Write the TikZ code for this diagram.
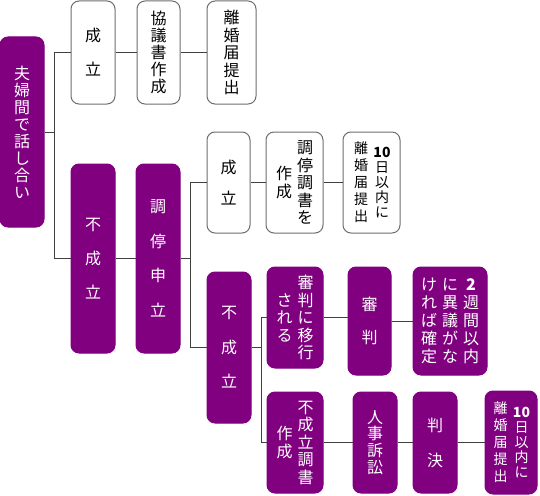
\documentclass[tikz,border=0pt]{standalone}
\usepackage{fontspec}
\setmainfont{Noto Sans CJK JP}
\usetikzlibrary{positioning}
\definecolor{boxpurple}{RGB}{128,0,128}
\definecolor{boxgray}{RGB}{110,110,110}
\definecolor{linegray}{RGB}{64,64,64}
% vertical text: one column, characters stacked top to bottom
\makeatletter
\newcommand\tate[2][17.5pt]{$\vcenter{\baselineskip=#1\lineskip=0pt\lineskiplimit=-100pt%
  \@tfor\tate@c:=#2\do{\hbox to 1em{\hss\tate@c\hss}}}$}
\makeatother

\begin{document}
\begin{tikzpicture}[x=1pt,y=1pt,yscale=-1,xscale=1,
    whitebox/.style={draw=boxgray,fill=white,text=black,rounded corners=8pt,inner sep=0pt,line width=1pt,font=\fontsize{16}{18}\selectfont},
    purplebox/.style={draw=boxpurple,fill=boxpurple,text=white,rounded corners=8pt,inner sep=0pt,line width=1pt,font=\fontsize{16}{18}\selectfont},
    smalltext/.style={font=\fontsize{14}{16}\selectfont},
    link/.style={draw=linegray,line width=1pt}]
        \useasboundingbox (0,0) rectangle (540,495);
        %first level
        \node [purplebox,minimum width=44,minimum height=190] (talk) at (22,132) {\tate[17pt]{夫婦間で話し合い}};
        %agreement by talk
        \node [whitebox,minimum width=44,minimum height=103] (ok1) at (93,52.5) {\tate[34pt]{成立}};
        \node [whitebox,minimum width=43,minimum height=103] (agree) at (158.5,52.5) {\tate[17pt]{協議書作成}};
        \node [whitebox,minimum width=49,minimum height=103] (file1) at (231.5,52.5) {\tate[17.5pt]{離婚届提出}};
        %no agreement
        \node [purplebox,minimum width=44,minimum height=189] (ng1) at (93,258.5) {\tate[34pt]{不成立}};
        \node [purplebox,minimum width=44,minimum height=189] (med) at (158,258.5) {\tate[34.5pt]{調停申立}};
        %mediation settled
        \node [whitebox,minimum width=43,minimum height=101] (ok2) at (228.5,182.5) {\tate[31pt]{成立}};
        \node [whitebox,minimum width=57,minimum height=101] (doc2) at (294.5,182.5) {\tate{作成}\hspace{5pt}\tate{調停調書を}};
        \node [whitebox,smalltext,minimum width=57,minimum height=101] (file2) at (371.5,182.5) {\tate[17pt]{離婚届提出}\hspace{7pt}\tate[15pt]{{\bfseries 10}日以内に}};
        %mediation failed
        \node [purplebox,minimum width=44,minimum height=151] (ng2) at (229,347.5) {\tate[34.5pt]{不成立}};
        \node [purplebox,minimum width=56,minimum height=101] (trans) at (295,317.5) {\tate{される}\hspace{5pt}\tate{審判に移行}};
        \node [purplebox,minimum width=43,minimum height=108] (judge) at (369.5,321) {\tate[33pt]{審判}};
        \node [purplebox,minimum width=74,minimum height=108] (final) at (450,321) {\tate[18pt]{ければ確定}\hspace{5pt}\tate[18pt]{に異議がな}\hspace{5pt}\tate[18pt]{{\bfseries 2}週間以内}};
        \node [purplebox,minimum width=56,minimum height=101] (nodoc) at (295,442.5) {\tate{作成}\hspace{5pt}\tate{不成立調書}};
        \node [purplebox,minimum width=44,minimum height=101] (suit) at (375,442.5) {\tate[16.7pt]{人事訴訟}};
        \node [purplebox,minimum width=44,minimum height=101] (verdict) at (435,442.5) {\tate[35pt]{判決}};
        \node [purplebox,smalltext,minimum width=52,minimum height=103] (file3) at (511,442.5) {\tate[17pt]{離婚届提出}\hspace{7pt}\tate[15pt]{{\bfseries 10}日以内に}};

        %branch points
        \coordinate [right=10pt of talk.east] (j1);
        \coordinate [right=10pt of med.east] (j2);
        \coordinate [right=10pt of ng2.east] (j3);

        %connectors
        \draw [link] (talk.east) -- (j1);
        \draw [link] (ok1.west) -| (j1) |- (ng1.west);
        \draw [link] (ok1.east) -- (agree.west);
        \draw [link] (agree.east) -- (file1.west);
        \draw [link] (ng1.east) -- (med.west);
        \draw [link] (med.east) -- (j2);
        \draw [link] (ok2.west) -| (j2) |- (ng2.west);
        \draw [link] (ok2.east) -- (doc2.west);
        \draw [link] (doc2.east) -- (file2.west);
        \draw [link] (ng2.east) -- (j3);
        \draw [link] (trans.west) -| (j3) |- (nodoc.west);
        \draw [link] (trans.east) -- (trans.east -| judge.west);
        \draw [link] (judge.east) -- (final.west);
        \draw [link] (nodoc.east) -- (suit.west);
        \draw [link] (suit.east) -- (verdict.west);
        \draw [link] (verdict.east) -- (file3.west);
    \end{tikzpicture}
\end{document}
